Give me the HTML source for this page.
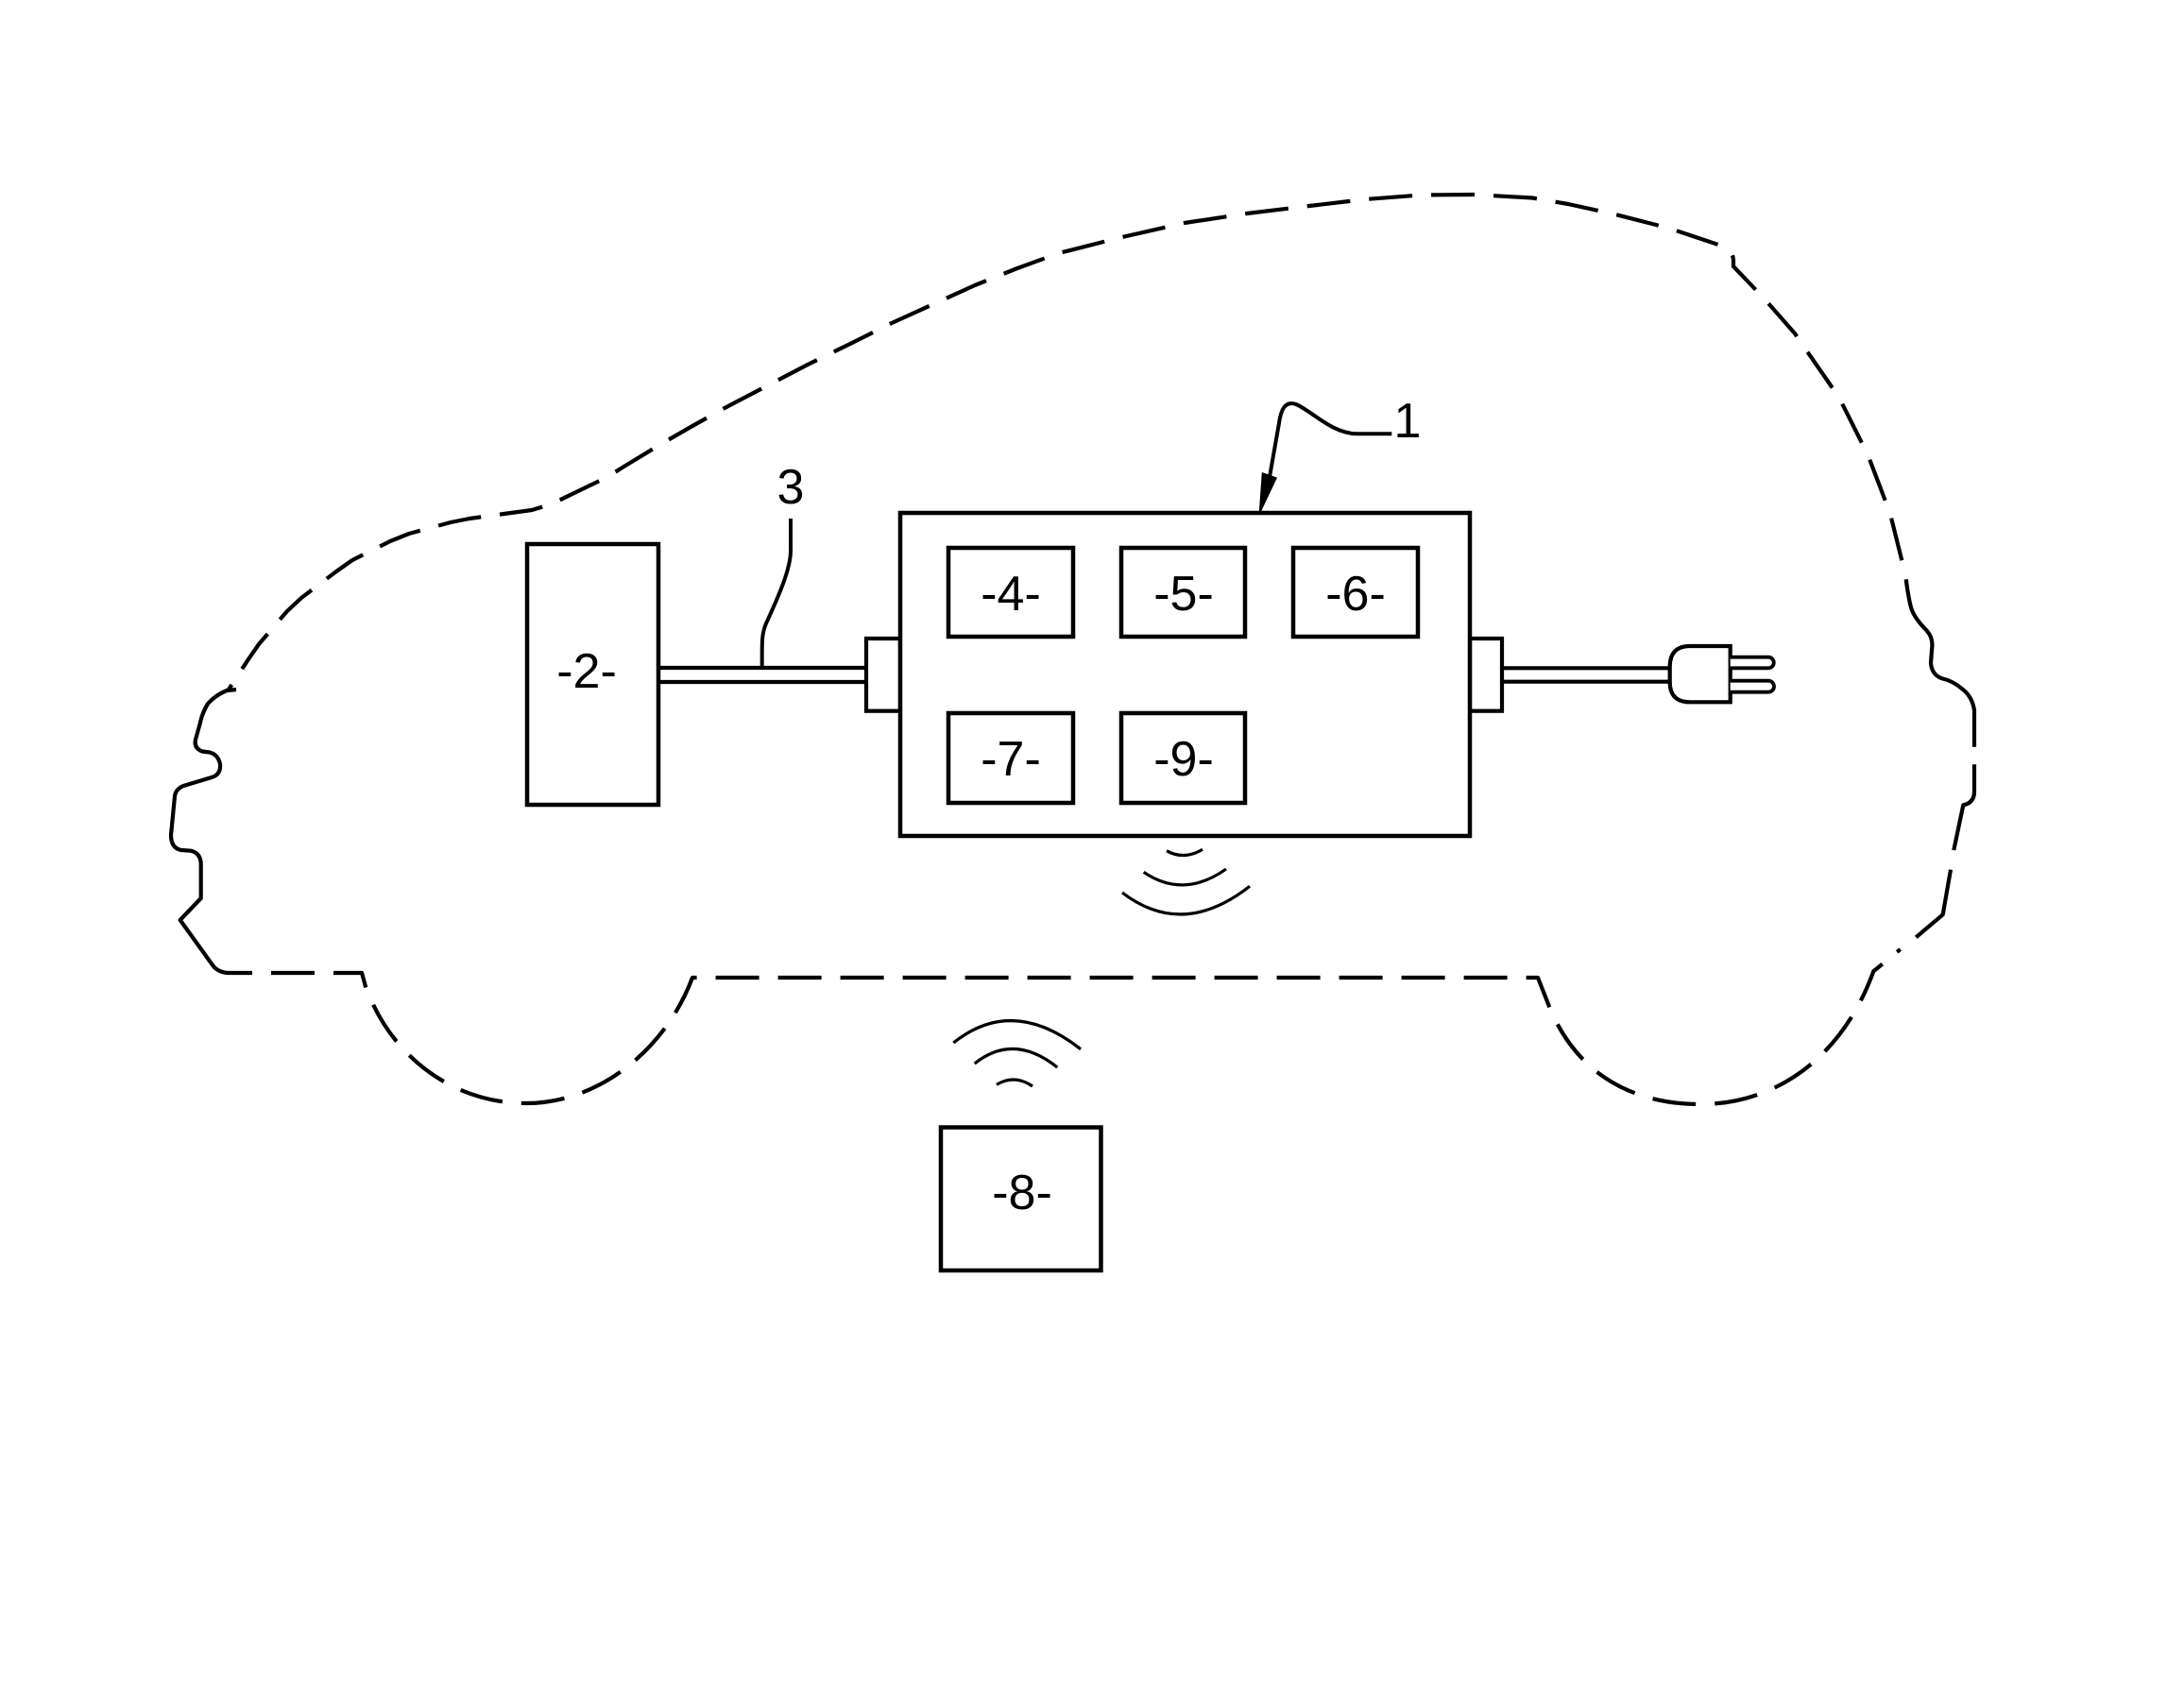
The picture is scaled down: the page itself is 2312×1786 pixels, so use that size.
<!DOCTYPE html>
<html>
<head>
<meta charset="utf-8">
<style>
  html,body{margin:0;padding:0;background:#fff;}
  svg{display:block;}
  text{font-family:"Liberation Sans",Arial,sans-serif;fill:#000;}
</style>
</head>
<body>
<svg width="2312" height="1786" viewBox="0 0 2312 1786" xmlns="http://www.w3.org/2000/svg">
  <rect x="0" y="0" width="2312" height="1786" fill="#fff"/>

  <!-- Car outline: dashed roof/hood -->
  <path d="M2013.3,593.3 L2002,548 L1995,528 L1979,486 L1970,467 L1950,427 L1938,408 L1913,372 L1900,353 L1871,320 L1856,304 L1835,282 L1835,275 Q1834,265 1825,261 L1774,244 L1753,238 L1710,227 L1660,216 L1622,209.5 L1560,206 L1504,206.5 L1445,211 L1386,218 L1320,226 L1254,236 L1188,251 L1121,268 L1077,284 L1032,302 L988,322 L944,342 L900,364 L855,386 L811,409 L767,432 L733,451 L700,470 L662,493 L643,505 L583,534 L563,540 L497,549 L477,553 L433,565 L413,573 L373,593 L356,605 L319,633 L304,647 L274,682 L262.7,698.3 L242,730"
        fill="none" stroke="#000" stroke-width="4.2" stroke-dasharray="46 20" stroke-linecap="butt" stroke-linejoin="round"/>

  <!-- Car outline: solid front bumper -->
  <path d="M250,730 L240,731 Q228,736 220,745 Q214,755 212,765 L207,783 Q205,792 214,795.5 L222,796.5 Q231,799 233,809 Q234,820 224,823 L195,831.7 Q186,835 185,843 L181,884 Q181,898 192,900 L202,900.7 Q212,903 212.7,914 L212.7,951 L190.7,974 L225,1021.7 Q230,1029 241,1030 L267,1030"
        fill="none" stroke="#000" stroke-width="4.2" stroke-linejoin="round"/>

  <!-- Car outline: dashed bottom with wheel arches -->
  <path d="M287,1030 L383,1030 L388,1048 L393,1059 C420,1120 480,1168 557,1168 C635,1168 705,1110 733,1035 L1628,1035 L1639,1063 C1665,1130 1720,1169 1800,1169 C1880,1169 1950,1120 1983.3,1028.3 L2011.7,1005"
        fill="none" stroke="#000" stroke-width="4.2" stroke-dasharray="46 20" stroke-linecap="butt" stroke-linejoin="round"/>

  <!-- Car outline: rear solid pieces -->
  <path d="M2028.3,992.3 L2056.7,968.3 L2065,920.7" fill="none" stroke="#000" stroke-width="4.2" stroke-linejoin="round"/>
  <path d="M2068.3,900 L2078.3,852.3 Q2090,850 2090,838 L2090,809.3" fill="none" stroke="#000" stroke-width="4.2" stroke-linejoin="round"/>
  <path d="M2090,790.7 L2090,752 Q2088,738 2078,730 Q2068,721 2055,718 Q2045,714 2044,702 L2045,688 Q2047,676 2040,668 Q2028,656 2024,646 Q2021,638 2017.7,613.3"
        fill="none" stroke="#000" stroke-width="4.2" stroke-linejoin="round"/>

  <!-- Box 2 -->
  <rect x="558" y="576" width="139" height="276" fill="#fff" stroke="#000" stroke-width="4.5"/>
  <text x="621" y="728" font-size="52" text-anchor="middle">-2-</text>

  <!-- Cable 3 -->
  <line x1="697" y1="707" x2="917" y2="707" stroke="#000" stroke-width="4.2"/>
  <line x1="697" y1="722" x2="917" y2="722" stroke="#000" stroke-width="4.2"/>

  <!-- Leader 3 -->
  <path d="M837,549 L837,583 C837,605 820,640 811,660 C806,672 806.7,680 806.7,707" fill="none" stroke="#000" stroke-width="4"/>
  <text x="837" y="533" font-size="52" text-anchor="middle">3</text>

  <!-- Connectors -->
  <rect x="917" y="676" width="36" height="76.7" fill="#fff" stroke="#000" stroke-width="4.2"/>
  <rect x="1556" y="676" width="34" height="76.7" fill="#fff" stroke="#000" stroke-width="4.2"/>

  <!-- Main box 1 -->
  <rect x="953" y="543" width="603" height="342" fill="#fff" stroke="#000" stroke-width="4.5"/>

  <!-- Sub boxes -->
  <rect x="1004" y="580" width="132" height="94" fill="#fff" stroke="#000" stroke-width="4.5"/>
  <text x="1070" y="646" font-size="52" text-anchor="middle">-4-</text>
  <rect x="1187" y="580" width="131" height="94" fill="#fff" stroke="#000" stroke-width="4.5"/>
  <text x="1253" y="646" font-size="52" text-anchor="middle">-5-</text>
  <rect x="1369" y="580" width="132" height="94" fill="#fff" stroke="#000" stroke-width="4.5"/>
  <text x="1435" y="646" font-size="52" text-anchor="middle">-6-</text>
  <rect x="1004" y="755" width="132" height="95" fill="#fff" stroke="#000" stroke-width="4.5"/>
  <text x="1070" y="821" font-size="52" text-anchor="middle">-7-</text>
  <rect x="1187" y="755" width="131" height="95" fill="#fff" stroke="#000" stroke-width="4.5"/>
  <text x="1253" y="821" font-size="52" text-anchor="middle">-9-</text>

  <!-- Leader 1 with arrow -->
  <path d="M1473.3,459.3 L1436.7,459.3 C1410,459 1390,436 1372,428 C1360,424 1356,434 1354,448 L1344,505" fill="none" stroke="#000" stroke-width="4"/>
  <polygon points="1336.5,501 1351,506 1333.5,543" fill="#000" stroke="#000" stroke-width="1.5" stroke-linejoin="miter"/>
  <text x="1490" y="463" font-size="52" text-anchor="middle">1</text>

  <!-- Right cable + plug -->
  <line x1="1590" y1="707.3" x2="1768" y2="707.3" stroke="#000" stroke-width="4.2"/>
  <line x1="1590" y1="721.7" x2="1768" y2="721.7" stroke="#000" stroke-width="4.2"/>
  <path d="M1831.7,684 L1789,684 Q1767.7,684 1767.7,706 L1767.7,722 Q1767.7,743.3 1789,743.3 L1831.7,743.3 Z" fill="#fff" stroke="#000" stroke-width="4.2"/>
  <path d="M1831.7,695.7 L1872,695.7 A5.8,5.8 0 0 1 1872,707.3 L1831.7,707.3" fill="#fff" stroke="#000" stroke-width="3.8"/>
  <path d="M1831.7,720.7 L1872,720.7 A6,6 0 0 1 1872,732.7 L1831.7,732.7" fill="#fff" stroke="#000" stroke-width="3.8"/>

  <!-- Wireless arcs below box 1 -->
  <path d="M1235,900.7 Q1253,911 1273,899.3" fill="none" stroke="#000" stroke-width="3.2"/>
  <path d="M1210.7,923.3 Q1253,952 1298,920" fill="none" stroke="#000" stroke-width="3.2"/>
  <path d="M1188,945 Q1252,994 1323,938.3" fill="none" stroke="#000" stroke-width="3.2"/>

  <!-- Wireless arcs above box 8 -->
  <path d="M1009.3,1104 Q1072,1054 1144,1110.7" fill="none" stroke="#000" stroke-width="3.2"/>
  <path d="M1031.7,1126 Q1073,1093 1119.3,1130" fill="none" stroke="#000" stroke-width="3.2"/>
  <path d="M1055,1148.3 Q1074,1137 1093,1150" fill="none" stroke="#000" stroke-width="3.2"/>

  <!-- Box 8 -->
  <rect x="996" y="1193.5" width="169.5" height="151.5" fill="#fff" stroke="#000" stroke-width="4.5"/>
  <text x="1082" y="1280" font-size="52" text-anchor="middle">-8-</text>
</svg>
</body>
</html>
